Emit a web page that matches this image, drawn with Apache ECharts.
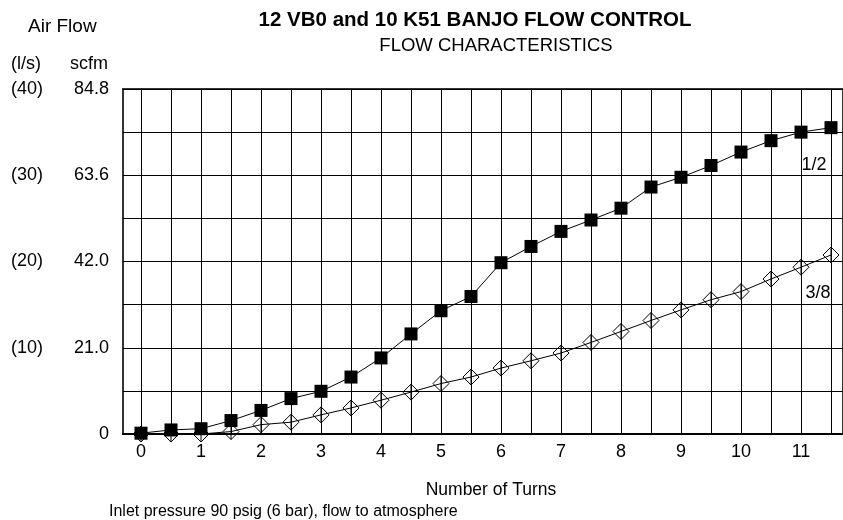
<!DOCTYPE html>
<html>
<head>
<meta charset="utf-8">
<script src="https://cdn.jsdelivr.net/npm/echarts@6/dist/echarts.min.js"></script>
<style>
  html, body { margin: 0; padding: 0; background: #fff; }
  #chart { width: 843px; height: 520px; }
</style>
</head>
<body>
<div id="chart"></div>
<script>
// turns of the adjusting screw
const turns = [0, 0.5, 1, 1.5, 2, 2.5, 3, 3.5, 4, 4.5, 5, 5.5, 6, 6.5, 7, 7.5, 8, 8.5, 9, 9.5, 10, 10.5, 11, 11.5];
// flow in scfm, 1/2 and 3/8 sizes
const halfInch = [0.2, 1.0, 1.3, 3.3, 5.8, 8.7, 10.5, 14.0, 18.7, 24.6, 30.3, 33.8, 42.1, 46.1, 49.8, 52.6, 55.5, 60.7, 63.1, 66.0, 69.3, 72.1, 74.2, 75.3];
const threeEighth = [0, 0, 0, 0.6, 2.3, 2.9, 4.7, 6.4, 8.3, 10.3, 12.4, 14.0, 16.2, 18.0, 19.9, 22.5, 25.2, 27.9, 30.5, 33.0, 35.0, 38.1, 41.0, 44.0];
// axis labels
const xLabels = [0, 1, 2, 3, 4, 5, 6, 7, 8, 9, 10, 11];
const scfmLabels = ['0', '', '21.0', '', '42.0', '', '63.6', '', '84.8'];
const lsLabels = ['', '', '(10)', '', '(20)', '', '(30)', '', '(40)'];

const font = 'Liberation Sans, Arial, sans-serif';
const step = 10.6;

let chart = echarts.init(document.getElementById('chart'));

function pairs(ys) {
  return turns.map((t, i) => [t, ys[i]]);
}

let half = pairs(halfInch);
half[22] = {
  value: half[22],
  label: { show: true, formatter: '1/2', position: 'inside', offset: [13, 33], color: '#000', fontSize: 18, fontFamily: font }
};
let three = pairs(threeEighth);
three[22] = {
  value: three[22],
  label: { show: true, formatter: '3/8', position: 'inside', offset: [17, 26], color: '#000', fontSize: 18, fontFamily: font }
};

chart.setOption({
  animation: false,
  backgroundColor: '#fff',
  textStyle: { fontFamily: font },
  grid: {
    left: 123, right: 0, top: 89, bottom: 86,
    show: true, borderColor: '#333', borderWidth: 2
  },
  xAxis: {
    type: 'value',
    min: -0.3,
    max: 11.7,
    axisLine: { lineStyle: { color: '#000', width: 2 } },
    axisTick: { show: false, customValues: turns },
    axisLabel: { customValues: xLabels, color: '#000', fontSize: 18, margin: 9, fontFamily: font },
    splitLine: { show: true, lineStyle: { color: '#000', width: 1 } }
  },
  yAxis: [
    {
      type: 'value',
      min: 0,
      max: 84.8,
      interval: step,
      axisLine: { show: true, lineStyle: { color: '#000', width: 1 } },
      axisTick: { show: false },
      axisLabel: {
        color: '#000', fontSize: 18, margin: 14, fontFamily: font,
        formatter: v => scfmLabels[Math.round(v / step)] || ''
      },
      splitLine: { show: true, lineStyle: { color: '#000', width: 1 } }
    },
    {
      type: 'value',
      position: 'left',
      offset: 66,
      min: 0,
      max: 84.8,
      interval: step,
      axisLine: { show: false },
      axisTick: { show: false },
      splitLine: { show: false },
      axisLabel: {
        color: '#000', fontSize: 18, margin: 14, fontFamily: font,
        padding: [6, 0, 0, 0],
        formatter: v => lsLabels[Math.round(v / step)] || ''
      }
    }
  ],
  graphic: [
    { type: 'text', x: 475, y: 20, style: { text: '12 VB0 and 10 K51 BANJO FLOW CONTROL', font: 'bold 20.5px ' + font, fill: '#000', textAlign: 'center', textVerticalAlign: 'middle' } },
    { type: 'text', x: 496, y: 46, style: { text: 'FLOW CHARACTERISTICS', font: '18.5px ' + font, fill: '#000', textAlign: 'center', textVerticalAlign: 'middle' } },
    { type: 'text', x: 28, y: 27, style: { text: 'Air Flow', font: '19px ' + font, fill: '#000', textAlign: 'left', textVerticalAlign: 'middle' } },
    { type: 'text', x: 11, y: 64, style: { text: '(l/s)', font: '18px ' + font, fill: '#000', textAlign: 'left', textVerticalAlign: 'middle' } },
    { type: 'text', x: 70, y: 64, style: { text: 'scfm', font: '18px ' + font, fill: '#000', textAlign: 'left', textVerticalAlign: 'middle' } },
    { type: 'text', x: 491, y: 490, style: { text: 'Number of Turns', font: '17.5px ' + font, fill: '#000', textAlign: 'center', textVerticalAlign: 'middle' } },
    { type: 'text', x: 109, y: 512, style: { text: 'Inlet pressure 90 psig (6 bar), flow to atmosphere', font: '16px ' + font, fill: '#000', textAlign: 'left', textVerticalAlign: 'middle' } }
  ],
  series: [
    {
      name: '3/8',
      type: 'line',
      data: three,
      symbol: 'path://M10,0L20,10L10,20L0,10Z M10,0L10,20',
      symbolSize: 16,
      lineStyle: { color: '#000', width: 1 },
      itemStyle: { color: 'rgba(0,0,0,0)', borderColor: '#000', borderWidth: 1 },
      z: 3
    },
    {
      name: '1/2',
      type: 'line',
      data: half,
      symbol: 'rect',
      symbolSize: 13,
      lineStyle: { color: '#000', width: 1 },
      itemStyle: { color: '#000' },
      z: 4
    }
  ]
});
</script>
</body>
</html>
